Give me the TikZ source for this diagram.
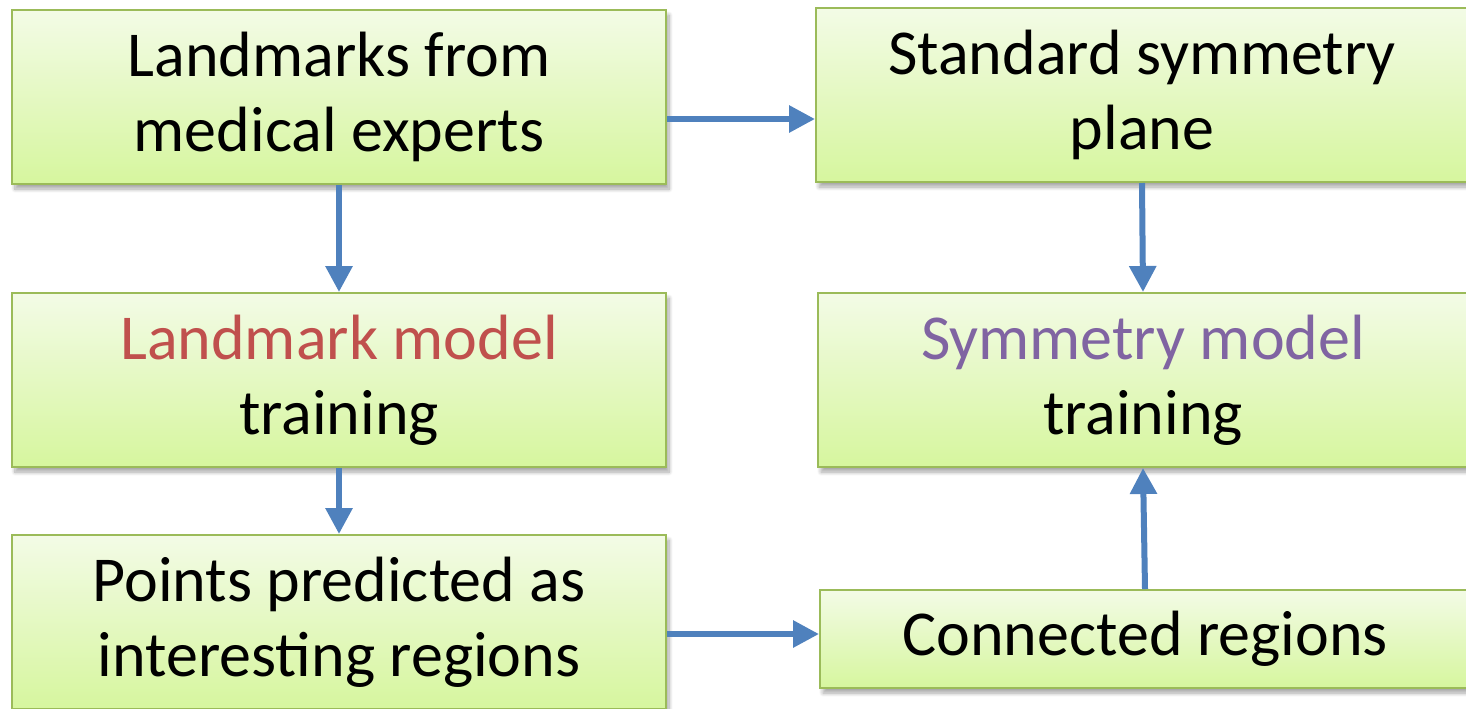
\documentclass[tikz,border=0pt]{standalone}
\usepackage{fontspec}
\setmainfont{Carlito}
\usetikzlibrary{arrows.meta,shadows.blur}
\definecolor{boxtop}{RGB}{243,251,230}
\definecolor{boxbot}{RGB}{214,246,158}
\definecolor{boxline}{RGB}{155,187,89}
\definecolor{flow}{RGB}{79,129,189}
\definecolor{redtxt}{RGB}{192,80,77}
\definecolor{purptxt}{RGB}{128,100,162}
\tikzset{
  stage/.style={draw=boxline, line width=1pt, top color=boxtop, bottom color=boxbot,
    minimum width=#1, minimum height=87pt, inner sep=0pt, align=center,
    font=\fontsize{32}{37.5}\selectfont,
    blur shadow={shadow xshift=1.5pt, shadow yshift=-2.5pt, shadow blur steps=8, shadow opacity=35}},
  flowarrow/.style={draw=flow, line width=3pt, -{Triangle[width=13pt,length=13pt]}}
}
\begin{document}
\begin{tikzpicture}[x=0.5pt,y=-0.5pt]
\useasboundingbox (0,0) rectangle (1466,708);
\begin{scope}
\clip (0,0) rectangle (1466,708);
\node[stage=327pt] (b1) at (339,97) {Landmarks from\\medical experts};
\node[stage=326pt] (b2) at (1142,95) {Standard symmetry\\plane};
\node[stage=327pt] (b3) at (339,380) {\textcolor{redtxt}{Landmark model}\\training};
\node[stage=325pt] (b4) at (1143,380) {\textcolor{purptxt}{Symmetry model}\\training};
\node[stage=327pt] (b5) at (339,622) {Points predicted as\\interesting regions};
\node[stage=325pt, minimum height=49pt] (b6) at (1145,639) {Connected regions};

\draw[flowarrow] ([yshift=-11pt]b1.east) -- ([yshift=-11pt]b1.east -| b2.west);
\draw[flowarrow] (b1.south) -- (b3.north);
\draw[flowarrow] (b3.south) -- (b5.north);
\draw[flowarrow] (b2.south) -- (b4.north);
\draw[flowarrow] (b6.north) -- (b4.south);
\draw[flowarrow] ([yshift=-6pt]b5.east) -- ([yshift=-6pt]b5.east -| b6.west);
\end{scope}
\end{tikzpicture}
\end{document}
